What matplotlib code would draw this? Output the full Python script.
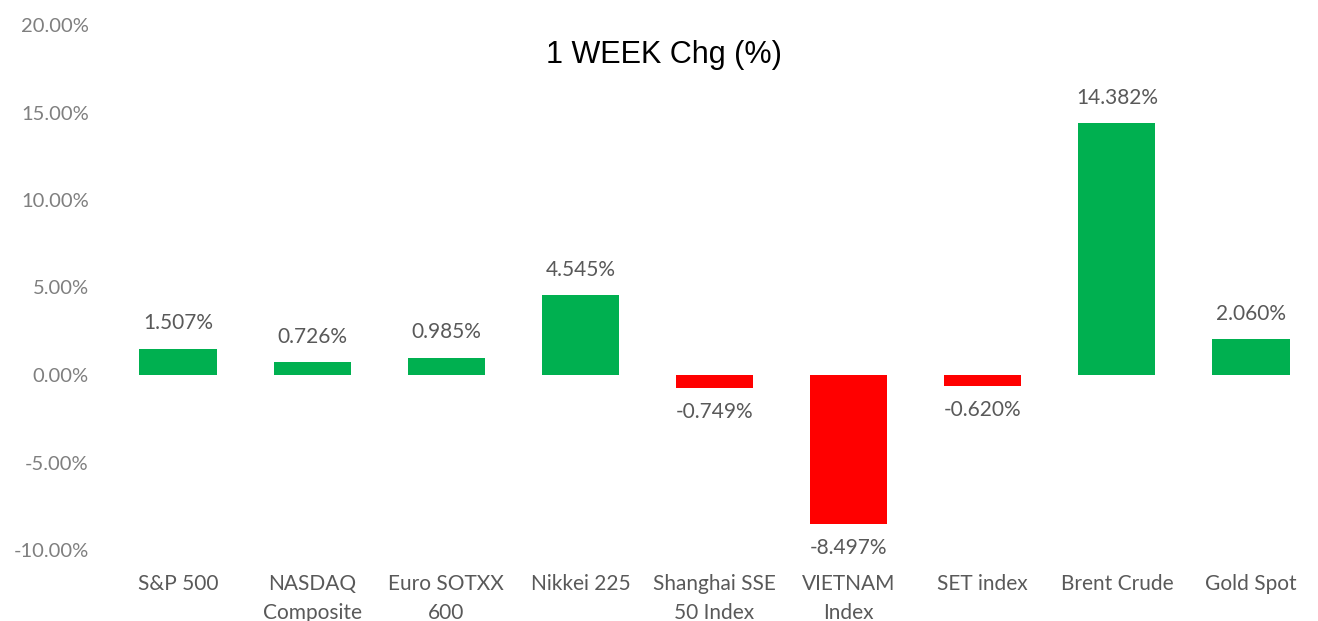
import matplotlib
matplotlib.use("Agg")
import matplotlib.pyplot as plt
import matplotlib.transforms as mtransforms
from matplotlib.ticker import FuncFormatter

categories = ["S&P 500", "NASDAQ\nComposite", "Euro SOTXX\n600", "Nikkei 225",
              "Shanghai SSE\n50 Index", "VIETNAM\nIndex", "SET index", "Brent Crude", "Gold Spot"]
values = [1.507, 0.726, 0.985, 4.545, -0.749, -8.497, -0.620, 14.382, 2.060]
yticks = [-10, -5, 0, 5, 10, 15, 20]

GREEN = "#00B050"
RED = "#FF0000"
FONT = "Lato"

fig = plt.figure(figsize=(13.18, 6.21), dpi=100)
ax = fig.add_axes([111 / 1318, 1 - 550 / 621, (1318 - 111) / 1318, 525 / 621])

x = list(range(len(categories)))
colors = [GREEN if v >= 0 else RED for v in values]
ax.bar(x, values, width=0.575, color=colors)

ax.set_xlim(-0.5, 8.5)
ax.set_ylim(-10, 20)
ax.set_yticks(yticks)
ax.yaxis.set_major_formatter(FuncFormatter(lambda v, p: f"{v:.2f}%"))
for s in ax.spines.values():
    s.set_visible(False)
ax.tick_params(axis="both", length=0)
ax.tick_params(axis="y", labelcolor="#7f7f7f", labelsize=14.5, pad=16)
ax.set_xticks([])
for lbl in ax.get_yticklabels():
    lbl.set_family(FONT)

for xi, v in zip(x, values):
    if v >= 0:
        ax.annotate(f"{v:.3f}%", (xi, v), xytext=(0, 11), textcoords="offset points",
                    ha="center", va="bottom", fontsize=15, color="#595959", family=FONT)
    else:
        ax.annotate(f"{v:.3f}%", (xi, v), xytext=(0, -10), textcoords="offset points",
                    ha="center", va="top", fontsize=15, color="#595959", family=FONT)

off = mtransforms.ScaledTranslation(0, -24 / 100, fig.dpi_scale_trans)
for xi, c in zip(x, categories):
    ax.text(xi, -10, c, transform=ax.transData + off, ha="center", va="top",
            fontsize=15, color="#595959", family=FONT, linespacing=1.55)

fig.text(664 / 1318, 1 - 55 / 621, "1 WEEK Chg (%)", ha="center", va="center",
         fontsize=22, color="black", family="Liberation Sans")

fig.savefig("out.png", dpi=100)
